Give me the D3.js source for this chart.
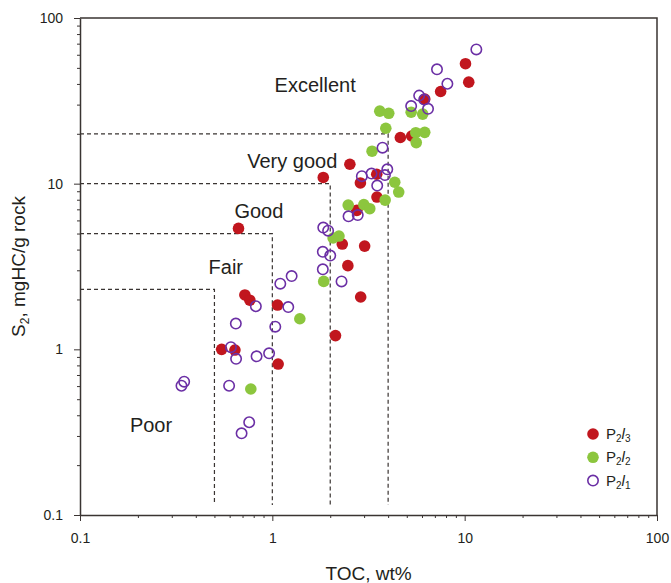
<!doctype html>
<html>
<head>
<meta charset="utf-8">
<style>
  body { margin: 0; background: #fff; font-family: 'Liberation Sans', Arial, sans-serif; }
  svg { display: block; }
  .axis path, .axis line { stroke: #3a3432; }
  .axis text { font-size: 14px; fill: #231f20; font-family: 'Liberation Sans', Arial, sans-serif; }
  .frame { stroke: #3a3432; stroke-width: 1.5; fill: none; }
  .limit { stroke: #3a3432; stroke-width: 1.2; stroke-dasharray: 4 3; fill: none; }
  .zone { font-size: 20px; fill: #231f20; text-anchor: middle; }
  .title { font-size: 19px; fill: #231f20; text-anchor: middle; }
  .legend text { font-size: 15px; fill: #231f20; }
</style>
<script src="https://d3js.org/d3.v7.min.js"></script>
</head>
<body>
<svg width="671" height="583"></svg>
<script>
// P2l3 samples (TOC wt%, S2 mgHC/g)
const p2l3 = [
  [10.1, 53], [10.5, 41], [7.5, 36], [6.2, 32.4], [4.63, 19], [5.3, 19.4],
  [2.53, 13.1], [1.84, 10.9], [2.87, 10.1], [3.5, 8.3], [3.49, 11.4], [2.75, 6.9],
  [2.31, 4.32], [3.02, 4.2], [2.47, 3.2], [2.88, 2.07], [2.13, 1.21],
  [0.667, 5.37], [0.72, 2.13], [0.764, 1.98], [1.064, 1.85],
  [0.545, 1.0], [0.639, 0.99], [1.072, 0.815]
]
// P2l2 samples
const p2l2 = [
  [3.62, 27.4], [4.03, 26.6], [3.89, 21.6], [5.27, 27], [6.05, 26.3], [5.57, 20.3],
  [6.2, 20.4], [5.6, 17.7], [3.3, 15.7], [4.33, 10.2], [4.54, 8.9], [3.86, 7.96],
  [2.48, 7.43], [2.99, 7.48], [3.21, 7.06], [2.07, 4.7], [2.22, 4.83],
  [1.85, 2.57], [1.39, 1.53], [0.773, 0.576]
]
// P2l1 samples
const p2l1 = [
  [11.5, 64.6], [7.18, 49], [8.13, 40.1], [5.8, 34], [6.16, 32.2], [6.45, 28.3],
  [5.27, 29.4], [3.74, 16.5], [3.96, 12.2], [2.92, 11.1], [3.28, 11.5], [3.51, 9.74],
  [3.85, 11.27], [2.49, 6.35], [2.78, 6.46], [1.84, 5.43], [1.95, 5.2], [1.83, 3.88],
  [2.0, 3.68], [1.83, 3.04], [2.29, 2.57], [1.26, 2.77], [1.1, 2.49], [0.821, 1.82],
  [1.21, 1.8], [0.646, 1.43], [1.036, 1.37], [0.609, 1.03], [0.648, 0.876],
  [0.828, 0.907], [0.962, 0.946], [0.596, 0.603], [0.337, 0.603], [0.348, 0.638],
  [0.758, 0.363], [0.692, 0.311]
]

// quality class limits: [TOC, S2]
const limits = [[0.5, 2.3], [1, 5], [2, 10], [4, 20]]
const limitFloor = 0.115

const zones = ['Poor', 'Fair', 'Good', 'Very good', 'Excellent']
const zoneAt = [[0.234, 0.316], [0.573, 2.84], [0.851, 6.17], [1.27, 12.4], [1.67, 35.9]]

const xTicks = [0.1, 1, 10, 100]
const yTicks = [0.1, 1, 10, 100]

const series = [
  { name: ['2', '3'], data: p2l3, color: '#c1161e', open: false },
  { name: ['2', '2'], data: p2l2, color: '#8cc63e', open: false },
  { name: ['2', '1'], data: p2l1, color: '#6b2fa5', open: true }
]

const svg = d3.select('svg')
const mLeft = 80, mRight = 657, mTop = 18, mBottom = 515

const x = d3.scaleLog().domain([0.1, 100]).range([mLeft, mRight])
const y = d3.scaleLog().domain([0.1, 100]).range([mBottom, mTop])

const minor = (dom) => {
  const out = []
  for (let p = dom[0]; p < dom[1] * 0.999; p *= 10)
    for (let k = 2; k <= 9; k++) out.push(p * k)
  return out
}

// minor ticks
svg.append('g').attr('class', 'axis')
  .attr('transform', `translate(0,${mBottom})`)
  .call(d3.axisBottom(x).tickValues(minor(x.domain())).tickSize(3).tickFormat(''))
  .call(g => g.select('.domain').remove())
svg.append('g').attr('class', 'axis')
  .attr('transform', `translate(${mLeft},0)`)
  .call(d3.axisLeft(y).tickValues(minor(y.domain())).tickSize(3).tickFormat(''))
  .call(g => g.select('.domain').remove())

// major ticks
svg.append('g').attr('class', 'axis')
  .attr('transform', `translate(0,${mBottom})`)
  .call(d3.axisBottom(x).tickValues(xTicks).tickSize(6).tickSizeOuter(0).tickPadding(12).tickFormat(d => String(d)))
  .call(g => g.select('.domain').attr('stroke-width', 1.5))
svg.append('g').attr('class', 'axis')
  .attr('transform', `translate(${mLeft},0)`)
  .call(d3.axisLeft(y).tickValues(yTicks).tickSize(6).tickSizeOuter(0).tickPadding(11).tickFormat(d => String(d)))
  .call(g => g.select('.domain').attr('stroke-width', 1.5))

// top and right frame
svg.append('path').attr('class', 'frame')
  .attr('d', `M${mLeft},${mTop}H${mRight}V${mBottom}`)

// class limit lines
limits.forEach(([t, s]) => {
  svg.append('path').attr('class', 'limit')
    .attr('d', `M${x(0.1)},${y(s)}H${x(t)}V${y(limitFloor)}`)
})

zones.forEach((z, i) => {
  svg.append('text').attr('class', 'zone')
    .attr('x', x(zoneAt[i][0])).attr('y', y(zoneAt[i][1]))
    .text(z)
})

// points
series.forEach(s => {
  svg.append('g').selectAll('circle')
    .data(s.data)
    .enter().append('circle')
    .attr('cx', d => x(d[0]))
    .attr('cy', d => y(d[1]))
    .attr('r', s.open ? 5.2 : 5.8)
    .attr('fill', s.open ? 'none' : s.color)
    .attr('stroke', s.open ? s.color : 'none')
    .attr('stroke-width', 1.6)
})

// axis titles
svg.append('text').attr('class', 'title')
  .attr('x', (mLeft + mRight) / 2).attr('y', 580)
  .text('TOC, wt%')

const yt = svg.append('text').attr('class', 'title')
  .attr('transform', `translate(25,${(mTop + mBottom) / 2}) rotate(-90)`)
yt.append('tspan').text('S')
yt.append('tspan').attr('dy', 4).attr('font-size', '12px').text('2')
yt.append('tspan').attr('dy', -4).text(', mgHC/g rock')

// legend
const lg = svg.append('g').attr('class', 'legend')
series.forEach((s, i) => {
  const ly = 434 + i * 23.3
  lg.append('circle')
    .attr('cx', 593).attr('cy', ly).attr('r', s.open ? 5.2 : 5.8)
    .attr('fill', s.open ? 'none' : s.color)
    .attr('stroke', s.open ? s.color : 'none')
    .attr('stroke-width', 1.6)
  const t = lg.append('text').attr('x', 606).attr('y', ly + 5)
  t.append('tspan').text('P')
  t.append('tspan').attr('dy', 3).attr('font-size', '10px').text(s.name[0])
  t.append('tspan').attr('dy', -3).attr('font-style', 'italic').text('l')
  t.append('tspan').attr('dy', 3).attr('font-size', '10px').text(s.name[1])
})
</script>
</body>
</html>
